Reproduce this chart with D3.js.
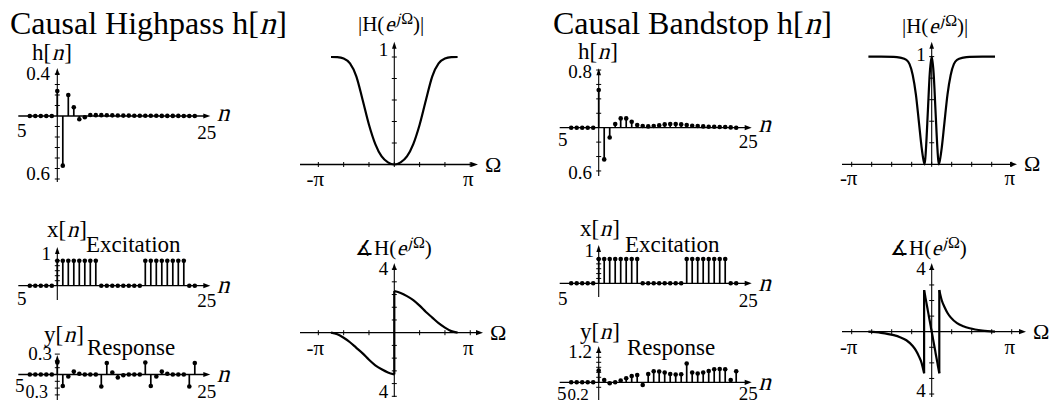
<!DOCTYPE html>
<html><head><meta charset="utf-8">
<script src="https://cdn.jsdelivr.net/npm/d3@7"></script>
<style>
body{margin:0;background:#fff}
svg text{font-family:"Liberation Serif","Times New Roman",serif;fill:#000}
</style>
</head><body><svg id="c" width="1056" height="403"></svg>
<script>
// ---------------- data ----------------
const nIdx = d3.range(-5, 26);
const hpImpulse = [0,0,0,0,0, 0.238,-0.473,0.200,0.083,-0.031,-0.012,0.010,0.008,
  0.008,0.007,0.006,0.005,0.004,0.004,0.003,0.003,0.002,0.002,0.002,0.001,0.001,0.001,0.001,0,0,0];
const excitation = [0,0,0,0,0, 1,1,1,1,1,1,1,1, 0,0,0,0,0,0,0,0, 1,1,1,1,1,1,1,1, 0,0];
const hpResponse = [0,0,0,0,0, 0.176,-0.17,-0.03,0.045,0.01,0,0,0, -0.176,0.17,0.03,-0.045,-0.01,0,0,0,
  0.176,-0.17,-0.03,0.045,0.01,0,0,0, -0.176,0.17];
const bsImpulse = [0,0,0,0,0, 0.523,-0.44,-0.135,0.051,0.129,0.129,0.083,0.037,
  0.024,0.018,0.024,0.032,0.046,0.051,0.051,0.046,0.037,0.028,0.024,0.018,0.014,0.014,0.01,0.01,0.004,0];
const bsResponse = [0,0,0,0,0, 0.47,0.09,-0.04,0.0,0.07,0.16,0.25,0.29, -0.11,0.33,0.44,0.43,0.39,0.33,0.31,0.32,
  0.75,0.39,0.35,0.39,0.45,0.52,0.53,0.52, 0.09,0.44];

// frequencies in units of pi
const hpMagW = [-1,-0.9,-0.8,-0.7,-0.6,-0.5,-0.4,-0.3,-0.2,-0.1,0,0.1,0.2,0.3,0.4,0.5,0.6,0.7,0.8,0.9,1];
const hpMag  = [1,0.998,0.985,0.94,0.82,0.6,0.37,0.19,0.075,0.02,0,0.02,0.075,0.19,0.37,0.6,0.82,0.94,0.985,0.998,1];
const hpPhaseNegW = [-1,-0.9,-0.8,-0.7,-0.6,-0.5,-0.4,-0.3,-0.2,-0.1,0];
const hpPhaseNeg  = [0,-0.1,-0.32,-0.6,-0.95,-1.3,-1.7,-2.05,-2.3,-2.5,-2.62];
const hpPhasePosW = [0,0.1,0.2,0.3,0.4,0.5,0.6,0.7,0.8,0.9,1];
const hpPhasePos  = [2.62,2.5,2.3,2.05,1.7,1.3,0.95,0.6,0.32,0.1,0];

const bsMagW = [-1,-0.8,-0.6,-0.5,-0.4,-0.35,-0.3,-0.25,-0.2,-0.16,-0.13,-0.11,-0.09,-0.06,-0.03,0,
  0.03,0.06,0.09,0.11,0.13,0.16,0.2,0.25,0.3,0.35,0.4,0.5,0.6,0.8,1];
const bsMag  = [1,1,0.998,0.99,0.97,0.93,0.83,0.65,0.38,0.16,0.04,0,0.15,0.5,0.85,1,
  0.85,0.5,0.15,0,0.04,0.16,0.38,0.65,0.83,0.93,0.97,0.99,0.998,1,1];
const bsPhaseAW = [-1,-0.8,-0.6,-0.5,-0.4,-0.3,-0.25,-0.2,-0.16,-0.12];
const bsPhaseA  = [0,-0.07,-0.22,-0.35,-0.55,-0.92,-1.2,-1.6,-2.0,-2.67];
const bsPhaseBW = [-0.12,0.12];
const bsPhaseB  = [2.67,-2.67];
const bsPhaseCW = [0.12,0.16,0.2,0.25,0.3,0.4,0.5,0.6,0.8,1];
const bsPhaseC  = [2.67,2.0,1.6,1.2,0.92,0.55,0.35,0.22,0.07,0];

const hpFreqTicks = [-1.2,-0.8,-0.4,0,0.4,0.8,1.2];
const bsFreqTicks = [-1.264,-0.948,-0.632,-0.316,0,0.316,0.632,0.948,1.264];
const magTicks = [0.2,0.4,0.6,0.8,1.0];

// ---------------- helpers ----------------
const svg = d3.select("#c");
const K = "#000";

function hArrow(g, x1, x2, y){
  g.append("line").attr("x1",x1).attr("x2",x2-4).attr("y1",y).attr("y2",y)
    .attr("stroke",K).attr("stroke-width",1.3);
  g.append("path").attr("d",`M${x2},${y} L${x2-7},${y-2.6} L${x2-7},${y+2.6} Z`).attr("fill",K);
}
function vArrow(g, x, y1, y2){
  g.append("line").attr("x1",x).attr("x2",x).attr("y1",y1).attr("y2",y2+4)
    .attr("stroke",K).attr("stroke-width",1.1);
  g.append("path").attr("d",`M${x},${y2} L${x-2.3},${y2+7} L${x+2.3},${y2+7} Z`).attr("fill",K);
}
function txt(g, x, y, s, size, anchor){
  return g.append("text").attr("x",x).attr("y",y).attr("font-size",size)
    .attr("text-anchor",anchor||"start").text(s);
}
// text made of runs; italic runs are drawn as slanted serif glyphs
function rich(g, x, y, parts){
  const grp = g.append("g").attr("transform",`translate(${x},${y})`);
  let cx = 0;
  parts.forEach(p=>{
    const t = grp.append("text").attr("font-size",p.size).text(p.t);
    const dy = p.dy||0;
    if(p.it){ t.attr("transform",`translate(${cx+0.5},${dy}) skewX(-15)`); }
    else { t.attr("x",cx).attr("y",dy); }
    cx += t.node().getComputedTextLength() + (p.it?1.5:0);
  });
  return grp;
}
function nLabel(g, x, y, s, size){
  return rich(g, x, y, [{t:s+"[",size},{t:"n",size,it:true},{t:"]",size}]);
}

function stemPanel(o){
  const g = svg.append("g");
  const x = d3.scaleLinear().domain([0,25]).range([o.x0, o.x0+137.5]);
  const y = d3.scaleLinear().domain(o.domain).range([o.axisY - o.domain[0]*o.k, o.axisY - o.domain[1]*o.k]);
  hArrow(g, o.x0-39, o.x0+153, o.axisY);
  vArrow(g, o.x0, o.vBottom, o.vTop);
  g.selectAll(".vt").data(o.vTicks).join("line")
    .attr("x1",o.x0-2.5).attr("x2",o.x0+2.5).attr("y1",d=>y(d)).attr("y2",d=>y(d))
    .attr("stroke",K).attr("stroke-width",1);
  const data = nIdx.map((n,i)=>({n, v:o.values[i]}));
  g.selectAll(".st").data(data.filter(d=>Math.abs(y(d.v)-y(0))>1.5)).join("line")
    .attr("x1",d=>x(d.n)).attr("x2",d=>x(d.n)).attr("y1",y(0)).attr("y2",d=>y(d.v))
    .attr("stroke",K).attr("stroke-width",1.7);
  g.selectAll(".dt").data(data).join("circle")
    .attr("cx",d=>x(d.n)).attr("cy",d=>y(d.v)).attr("r",2.3).attr("fill",K);
  txt(g, o.x0-o.lab5dx, o.axisY+o.lab5dy, "5", 19, "middle");
  txt(g, o.x0+140, o.axisY+o.lab25dy, "25", 19);
  rich(g, o.x0+159, o.axisY+o.ndy, [{t:"n",size:25,it:true}]);
  o.yLabels.forEach(l => txt(g, l.x, y(l.v)+l.dy, l.t, l.size||19, l.anchor||"end"));
  return {g,x,y};
}

function freqPanel(o){
  const g = svg.append("g");
  const x = d3.scaleLinear().domain([-1,1]).range([o.cx-63.3, o.cx+63.3]);
  const y = d3.scaleLinear().domain([0,1]).range([o.axisY, o.axisY - o.k]);
  hArrow(g, o.xLeft, o.xRight, o.axisY);
  vArrow(g, o.cx, o.vBottom, o.vTop);
  g.selectAll(".xt").data(o.xTicks).join("line")
    .attr("x1",d=>x(d)).attr("x2",d=>x(d)).attr("y1",o.axisY-2.5).attr("y2",o.axisY+2.5)
    .attr("stroke",K).attr("stroke-width",1);
  g.selectAll(".yt").data(o.yTicks).join("line")
    .attr("x1",o.cx-2.5).attr("x2",o.cx+2.5).attr("y1",d=>y(d)).attr("y2",d=>y(d))
    .attr("stroke",K).attr("stroke-width",1);
  const line = d3.line().x(d=>x(d[0])).y(d=>y(d[1])).curve(d3.curveMonotoneX);
  const straight = d3.line().x(d=>x(d[0])).y(d=>y(d[1]));
  let prev = null;
  o.segments.forEach(seg=>{
    const pts = seg[0].map((w,i)=>[w, seg[1][i]]);
    if(prev){
      g.append("line").attr("x1",x(prev[0])).attr("y1",y(prev[1])).attr("x2",x(pts[0][0])).attr("y2",y(pts[0][1]))
        .attr("stroke",K).attr("stroke-width",2.2);
    }
    g.append("path").attr("d", pts.length>2? line(pts) : straight(pts))
      .attr("fill","none").attr("stroke",K).attr("stroke-width",2.2).attr("stroke-linejoin","round");
    prev = pts[pts.length-1];
  });
  txt(g, x(o.xTicks[0])-3, o.axisY+o.piDy, "-π", 21, "middle");
  txt(g, x(o.xTicks[o.xTicks.length-1])-2, o.axisY+o.piDy, "π", 21, "middle");
  txt(g, o.xRight+7, o.axisY+7, "Ω", 22);
  o.yLabels.forEach(l => txt(g, o.cx-6, y(l.v)+l.dy, l.t, 19, "end"));
  return {g,x,y};
}

function freqTitle(x, y, prefix, suffix){
  rich(svg, x, y, [{t:prefix,size:21},{t:"e",size:21,it:true},
    {t:"j",size:16,it:true,dy:-7},{t:"Ω",size:16,dy:-7},{t:suffix,size:21}]);
}

// ---------------- titles ----------------
rich(svg, 10, 34, [{t:"Causal Highpass h[",size:32},{t:"n",size:32,it:true},{t:"]",size:32}]);
rich(svg, 553, 34, [{t:"Causal Bandstop h[",size:32},{t:"n",size:32,it:true},{t:"]",size:32}]);

// ---------------- highpass stems ----------------
stemPanel({x0:57.3, axisY:116, k:105, domain:[-0.6,0.4], values:hpImpulse,
  vTop:68, vBottom:182, vTicks:[-0.6,-0.5,-0.4,-0.3,-0.2,-0.1,0.1,0.2,0.3,0.4],
  lab5dx:35.5, lab5dy:21, lab25dy:23, ndy:5,
  yLabels:[{v:0.4,t:"0.4",x:50,dy:6},{v:-0.6,t:"0.6",x:50,dy:1}]});
nLabel(svg, 32, 60, "h", 23);

stemPanel({x0:57.3, axisY:285.7, k:25, domain:[0,1], values:excitation,
  vTop:247, vBottom:300, vTicks:[0.2,0.4,0.6,0.8,1],
  lab5dx:35.5, lab5dy:19.5, lab25dy:21, ndy:7,
  yLabels:[{v:1,t:"1",x:51,dy:-1}]});
nLabel(svg, 47, 237, "x", 23);
txt(svg, 86, 252, "Excitation", 23);

stemPanel({x0:57.3, axisY:374.5, k:68, domain:[-0.3,0.3], values:hpResponse,
  vTop:355, vBottom:400, vTicks:[-0.3,-0.2,-0.1,0.1,0.2,0.3],
  lab5dx:37.5, lab5dy:17, lab25dy:23, ndy:7,
  yLabels:[{v:0.3,t:"0.3",x:52,dy:6},{v:-0.3,t:"0.3",x:48,dy:3,size:18}]});
nLabel(svg, 44, 342, "y", 23);
txt(svg, 87, 355, "Response", 23);

// ---------------- bandstop stems ----------------
stemPanel({x0:598.7, axisY:127.7, k:72.1, domain:[-0.6,0.8], values:bsImpulse,
  vTop:68.3, vBottom:176, vTicks:[-0.6,-0.4,-0.2,0.2,0.4,0.6,0.8],
  lab5dx:36, lab5dy:18.5, lab25dy:20.5, ndy:4,
  yLabels:[{v:0.8,t:"0.8",x:592,dy:8},{v:-0.6,t:"0.6",x:592,dy:8}]});
nLabel(svg, 578, 59, "h", 23);

stemPanel({x0:598.7, axisY:283.3, k:24.3, domain:[0,1], values:excitation,
  vTop:245, vBottom:297, vTicks:[0.2,0.4,0.6,0.8,1],
  lab5dx:36, lab5dy:21.5, lab25dy:23.5, ndy:8,
  yLabels:[{v:1,t:"1",x:594,dy:-2}]});
nLabel(svg, 580, 236, "x", 23);
txt(svg, 625, 252, "Excitation", 23);

stemPanel({x0:598.7, axisY:382.3, k:25, domain:[-0.2,1.2], values:bsResponse,
  vTop:346, vBottom:400, vTicks:[-0.2,0.2,0.4,0.6,0.8,1.0,1.2],
  lab5dx:37, lab5dy:18, lab25dy:18, ndy:8,
  yLabels:[{v:1.2,t:"1.2",x:592,dy:6},{v:-0.2,t:"0.2",x:567.5,dy:13,size:17,anchor:"start"}]});
nLabel(svg, 580, 339, "y", 23);
txt(svg, 627, 355, "Response", 23);

// ---------------- frequency panels ----------------
freqPanel({cx:394.3, axisY:164.5, k:107.5, xLeft:300, xRight:478, vTop:41.7, vBottom:164.5,
  xTicks:hpFreqTicks, yTicks:magTicks, piDy:21,
  segments:[[hpMagW,hpMag]], yLabels:[{v:1,t:"1",dy:-1}]});
freqTitle(358, 31, "|H(", ")|");

freqPanel({cx:394.3, axisY:332.7, k:15.9, xLeft:300, xRight:483, vTop:263, vBottom:397,
  xTicks:hpFreqTicks, yTicks:[-4,-3.2,-2.4,-1.6,-0.8,0.8,1.6,2.4,3.2,4], piDy:22,
  segments:[[hpPhaseNegW,hpPhaseNeg],[hpPhasePosW,hpPhasePos]],
  yLabels:[{v:4,t:"4",dy:6},{v:-4,t:"4",dy:2}]});
freqTitle(355, 255, "∡H(", ")");

freqPanel({cx:931.7, axisY:164.3, k:107.7, xLeft:842, xRight:1017, vTop:41.7, vBottom:164.3,
  xTicks:bsFreqTicks, yTicks:magTicks, piDy:21,
  segments:[[bsMagW,bsMag]], yLabels:[{v:1,t:"1",dy:4}]});
freqTitle(902, 33, "|H(", ")|");

freqPanel({cx:931.7, axisY:331.7, k:15.58, xLeft:842, xRight:1026, vTop:263, vBottom:397,
  xTicks:bsFreqTicks, yTicks:[-4,-3,-2,-1,1,2,3,4], piDy:22,
  segments:[[bsPhaseAW,bsPhaseA],[bsPhaseBW,bsPhaseB],[bsPhaseCW,bsPhaseC]],
  yLabels:[{v:4,t:"4",dy:6},{v:-4,t:"4",dy:3}]});
freqTitle(890, 255, "∡H(", ")");
</script></body></html>
